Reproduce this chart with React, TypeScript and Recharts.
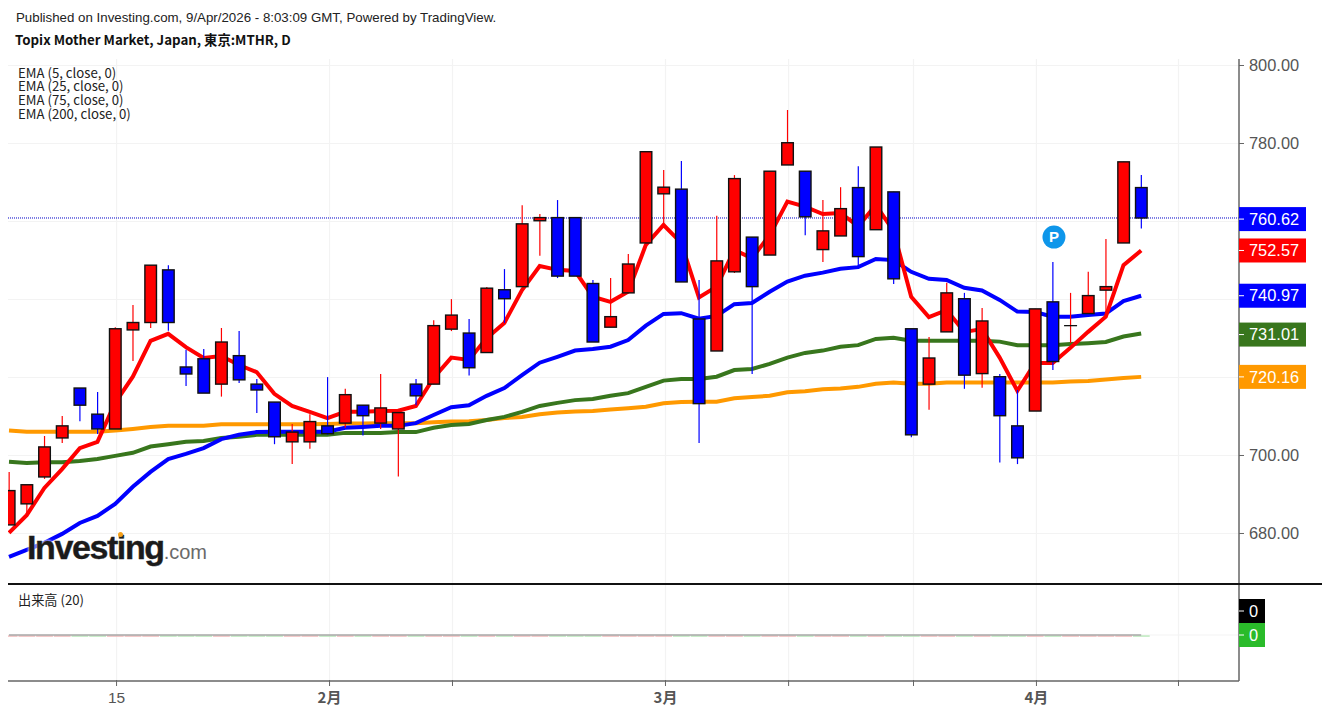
import React from 'react';
import { ComposedChart, Line, Bar, XAxis, YAxis, CartesianGrid, ReferenceLine, ReferenceDot } from 'recharts';

// Candles, one entry per session, in chart order
const opens = [682.2,687.6,694.5,704.5,717.3,710.6,706.8,732.2,734.1,747.6,722.7,724.8,718.3,725.6,718.3,713.7,703.5,703.5,707.6,708.3,712.9,708.3,706.8,718.3,718.3,732.4,731.4,726.4,742.5,743.3,760.2,761,761,744.1,732.9,741.7,754.5,767.1,768.3,735,726.8,747.1,756,751.4,774.5,772.9,752.8,756.3,768.7,757.9,767.6,732.5,718.3,731.7,740.2,721,720.2,707.6,711.4,739.4,733.3,736.4,742.4,754.5,768.7];
const highs = [695.8,692.5,705,710.1,717.3,716.3,732.9,738.6,748.8,748.8,727.1,727.3,732.7,731.9,719.6,713.7,708.1,710.6,720.1,717.1,712.9,720.9,711,719.6,734.7,740.1,735,743.2,747.8,764.2,761.9,765.5,761,745,745.5,751.7,777.9,773.2,775.5,745,761.5,771.9,756,772.9,788.6,772.9,765.5,768.8,774.2,779.1,767.6,732.5,730.4,744.3,741.7,737.8,720.9,716.8,737.6,749.6,741.7,747.1,755.5,775.3,771.9];
const lows = [682.2,684.7,694,703.2,708.8,705.5,706.8,724.2,732.7,732,717.8,716,715.1,718.6,710.9,702.9,697.8,701.7,705.3,707.1,705.1,706.8,694.6,712.9,718.3,731.9,720.5,726.3,734,743.3,751.2,745.5,746,729.1,732.9,741.7,754.5,759.4,744.5,703.2,726.8,746.8,720.9,751.4,774.5,756.5,749.6,756.3,748.7,757.9,744,704.7,711.7,731.7,717.1,717.4,698.2,697.8,711.4,721.9,728.8,736.4,735.6,754.5,758.2];
const closes = [691,692.5,702.2,707.6,712.9,706.8,732.5,734.1,748.8,734.1,720.9,716,729.1,719.4,716.8,704.8,706,708.7,705.6,715.6,710.2,712.2,711,715.3,733.3,736,722.5,742.9,740.2,759.4,761,746,746,729.1,735.6,749.1,777.9,768.8,744.5,713.3,749.9,771,743.3,772.9,780.2,761.2,757.6,763.3,751,779.1,745.3,705.3,725,741.7,720.6,734.5,710.2,699.4,737.6,724.1,733.3,741,743.3,775.3,760.9];

// Moving averages
const ema5 = [680.2,684.7,691.7,696.5,701.9,703.5,713.5,720.2,729.4,731.2,727.8,725,725.5,723.2,721.4,715.8,712.7,711.2,709.6,711.2,711.2,711.4,711.5,712.7,719.9,725.1,724.5,730.1,734,742.4,748.6,747.6,747.3,740.7,739.4,742,754,759.1,754.5,740.5,743.3,752.7,750.6,756.5,765.1,763.8,761.9,762.2,758.8,764.2,757.6,740.7,735.5,737.3,731.7,732.4,725.1,716.6,723.7,723.7,727.6,731.7,735.6,748.8,752.57];
const ema25 = [674,675.8,677.6,679.9,682.7,684.5,687.6,692,695.8,699.1,700.4,701.9,704.2,705.3,706,706.1,706.1,706.1,706.1,707.1,707.3,707.6,707.6,708.3,710.4,712.4,712.9,715.3,717.3,720.6,723.8,725.3,726.9,727.3,727.9,729.6,733.3,736.3,736.5,735.1,735.8,738.8,739.1,742,744.6,746.1,746.9,747.9,748.3,750.4,750.1,747.1,745.3,745,743,742.3,739.9,736.9,736.8,735.6,735.6,736,736.4,739.6,740.97];
const ema75 = [698.4,698.1,698.3,698.3,698.6,699.1,699.9,700.7,702.3,702.9,703.5,703.7,704.5,704.8,705.3,705.3,705.3,705.3,705.3,705.8,705.8,705.8,706,706,707.1,707.8,708.1,709.1,709.9,711.2,712.7,713.5,714.2,714.5,715.3,716,717.6,719.2,719.6,719.6,720.2,721.9,722.2,723.5,725.1,726.3,726.9,727.9,728.3,729.9,730.2,729.4,729.4,729.4,729.4,729.4,729.2,728.3,728.3,728.3,728.6,728.8,729.1,730.5,731.3];
const ema200 = [706.4,706.1,706.1,706.1,706.1,706.1,706.4,706.8,707.3,707.6,707.6,707.6,708,708,708,708,708,708,708.1,708.2,708.2,708.3,708.3,708.3,708.5,708.7,708.8,709.1,709.6,709.9,710.6,711,711.3,711.4,711.8,712.1,712.5,713.4,713.7,713.8,713.8,714.7,715,715.3,716.2,716.5,717,717.2,717.6,718.4,718.7,718.4,718.4,718.7,718.7,718.7,718.7,718.7,718.7,718.7,719,719.1,719.5,719.9,720.16];

// Axis content
const priceTicks = [680, 700, 780, 800, 720.16, 731.01, 740.97, 752.57, 760.62];
const priceGrid = [680, 700, 720, 740, 760, 780, 800];
const priceBadges: Record<string, string> = {
  '760.62': '#0000ff',
  '752.57': '#ff0000',
  '740.97': '#0000ff',
  '731.01': '#38761d',
  '720.16': '#ff9900',
};
const timeTicks = [6.08, 18.12, 25.07, 37.11, 44.07, 51.13, 58.08, 66.11];
const timeLabels: Record<string, string> = { '6.08': '15', '18.12': '2月', '37.11': '3月', '58.08': '4月' };
const emaLegend = ['EMA (5, close, 0)', 'EMA (25, close, 0)', 'EMA (75, close, 0)', 'EMA (200, close, 0)'];
const volumeTicks = [0.48, 0];

const rows = opens.map((o, i) => ({
  i,
  o,
  h: highs[i],
  l: lows[i],
  c: closes[i],
  range: [lows[i], highs[i]],
  ema5: ema5[i],
  ema25: ema25[i],
  ema75: ema75[i],
  ema200: ema200[i],
  vol: 0,
}));

const X_DOMAIN: [number, number] = [-0.0565, 69.53];
const Y_DOMAIN: [number, number] = [667.05, 801.67];
const LABEL_FONT = '"Liberation Sans", Arial, sans-serif';
const CJK_FONT = '"Noto Sans CJK JP", "Noto Sans", sans-serif';
const GRID = '#f3f3f3';
const AXIS = '#666666';

function Candle(props: any) {
  const { x, y, width, height, payload } = props;
  const cx = x + width / 2;
  const span = payload.h - payload.l || 1;
  const toY = (v: number) => y + ((payload.h - v) / span) * height;
  const top = toY(Math.max(payload.o, payload.c));
  const bot = toY(Math.min(payload.o, payload.c));
  const up = payload.c >= payload.o;
  const color = up ? '#ff0000' : '#0000ff';
  return (
    <g>
      <line x1={cx} x2={cx} y1={y} y2={y + height} stroke={color} strokeWidth={1.2} />
      {payload.c === payload.o ? (
        <line x1={cx - 6.5} x2={cx + 6.5} y1={top} y2={top} stroke="#111" strokeWidth={1.3} />
      ) : (
        <rect x={cx - 5.8} y={top} width={11.6} height={Math.max(bot - top, 1)} fill={color} stroke="#111" strokeWidth={1.4} />
      )}
    </g>
  );
}

function VolumeMark(props: any) {
  const { x, y, width, payload } = props;
  const up = payload.c >= payload.o;
  return <rect x={x + width / 2 - 8.4} y={y + 0.4} width={16.8} height={1.3} fill={up ? '#f0b4b4' : '#b4e6b4'} />;
}

function PriceTick(props: any) {
  const { x, y, payload } = props;
  const key = String(payload.value);
  const bg = priceBadges[key];
  const label = Number(payload.value).toFixed(2);
  return (
    <g>
      {bg && <rect x={x} y={y - 12} width={67} height={24} fill={bg} />}
      <line x1={x} x2={x + 5} y1={y} y2={y} stroke={bg ? '#ffffff' : AXIS} strokeWidth={1} />
      <text x={x + 10} y={y + 5.7} fontFamily={LABEL_FONT} fontSize={16.4} fill={bg ? '#ffffff' : '#555555'}>
        {label}
      </text>
    </g>
  );
}

function VolumeTick(props: any) {
  const { x, y, payload } = props;
  const bg = payload.value === 0 ? '#2abb2a' : '#000000';
  return (
    <g>
      <rect x={x} y={y - 12} width={26} height={24} fill={bg} />
      <line x1={x} x2={x + 5} y1={y} y2={y} stroke="#ffffff" strokeWidth={1} />
      <text x={x + 10} y={y + 5.7} fontFamily={LABEL_FONT} fontSize={16.4} fill="#ffffff">
        0
      </text>
    </g>
  );
}

function TimeTick(props: any) {
  const { x, y, payload } = props;
  const label = timeLabels[String(payload.value)];
  const isMonth = label && label.endsWith('月');
  return (
    <g>
      <line x1={x} x2={x} y1={y - 1} y2={y + 5} stroke={AXIS} strokeWidth={1} />
      {label && (
        <text x={x} y={y + 22} textAnchor="middle" fontFamily={isMonth ? CJK_FONT : LABEL_FONT} fontWeight={isMonth ? 700 : 400} fontSize={isMonth ? 15 : 15.5} fill="#555555">
          {label}
        </text>
      )}
    </g>
  );
}

const abs = (left: number, top: number): React.CSSProperties => ({ position: 'absolute', left, top, whiteSpace: 'nowrap' });

export default function App() {
  return (
    <div style={{ position: 'absolute', left: 0, top: 0, width: 1322, height: 714, background: '#fff', overflow: 'hidden' }}>
      <div style={abs(0, 0)}>
        <ComposedChart width={1322} height={585} data={rows} margin={{ top: 59, right: 0, bottom: 1, left: 8 }}>
          <CartesianGrid stroke={GRID} strokeWidth={1.2} horizontalValues={priceGrid} verticalValues={timeTicks} />
          <XAxis dataKey="i" type="number" domain={X_DOMAIN} allowDataOverflow hide ticks={timeTicks} />
          <YAxis
            orientation="right"
            width={83}
            type="number"
            domain={Y_DOMAIN}
            allowDataOverflow
            ticks={priceTicks}
            interval={0}
            tickLine={false}
            tickSize={0}
            tickMargin={0}
            axisLine={{ stroke: AXIS, strokeWidth: 1.5 }}
            tick={<PriceTick />}
          />
          <ReferenceLine y={760.9} stroke="#0000c8" strokeWidth={1} strokeDasharray="1 1" />
          <Line dataKey="ema200" stroke="#ff9900" strokeWidth={4} dot={false} isAnimationActive={false} />
          <Line dataKey="ema75" stroke="#38761d" strokeWidth={4} dot={false} isAnimationActive={false} />
          <Line dataKey="ema25" stroke="#0000ff" strokeWidth={4} dot={false} isAnimationActive={false} />
          <Line dataKey="ema5" stroke="#ff0000" strokeWidth={4} dot={false} isAnimationActive={false} />
        </ComposedChart>
      </div>

      <div style={abs(0, 0)}>
        <ComposedChart width={1322} height={585} data={rows} margin={{ top: 59, right: 83, bottom: 1, left: 8 }}>
          <XAxis dataKey="i" type="number" domain={X_DOMAIN} allowDataOverflow hide />
          <YAxis type="number" domain={Y_DOMAIN} allowDataOverflow hide />
          <Bar dataKey="range" barSize={12} shape={<Candle />} isAnimationActive={false} />
          <ReferenceDot
            x={59.07}
            y={756}
            r={11.5}
            fill="#0e96ea"
            stroke="none"
            label={{ value: 'P', position: 'center', fill: '#ffffff', fontSize: 15, fontWeight: 700, fontFamily: LABEL_FONT }}
          />
        </ComposedChart>
      </div>

      <div style={abs(0, 585)}>
        <ComposedChart width={1322} height={129} data={rows} margin={{ top: 0, right: 0, bottom: 0, left: 8 }}>
          <CartesianGrid stroke={GRID} strokeWidth={1.2} horizontalValues={[0]} verticalValues={timeTicks} />
          <XAxis
            dataKey="i"
            type="number"
            domain={X_DOMAIN}
            allowDataOverflow
            ticks={timeTicks}
            interval={0}
            height={33}
            tickLine={false}
            tickSize={0}
            tickMargin={0}
            axisLine={{ stroke: AXIS, strokeWidth: 1.5 }}
            tick={<TimeTick />}
          />
          <YAxis
            orientation="right"
            width={83}
            type="number"
            domain={[-0.92, 1]}
            allowDataOverflow
            ticks={volumeTicks}
            interval={0}
            tickLine={false}
            tickSize={0}
            tickMargin={0}
            axisLine={{ stroke: AXIS, strokeWidth: 1.5 }}
            tick={<VolumeTick />}
          />
          <Bar dataKey="vol" barSize={12} shape={<VolumeMark />} isAnimationActive={false} />
          <Line dataKey="vol" stroke="#a8a8a8" strokeWidth={1.5} dot={false} isAnimationActive={false} />
        </ComposedChart>
      </div>

      <div style={{ position: 'absolute', left: 8, top: 583, width: 1314, height: 2, background: '#111' }} />

      <div style={{ ...abs(16, 10), font: `13.3px ${LABEL_FONT}`, color: '#222' }}>
        Published on Investing.com, 9/Apr/2026 - 8:03:09 GMT, Powered by TradingView.
      </div>
      <div style={{ ...abs(15, 30), font: `700 13.3px ${CJK_FONT}`, color: '#111', lineHeight: '20px' }}>
        Topix Mother Market, Japan, 東京:MTHR, D
      </div>
      {emaLegend.map((t, i) => (
        <div key={t} style={{ ...abs(18, 65.5 + i * 13.7), font: `13.2px ${CJK_FONT}`, color: '#222', lineHeight: '13.7px' }}>
          {t}
        </div>
      ))}
      <div style={{ ...abs(18, 592), font: `13.2px ${CJK_FONT}`, color: '#222', lineHeight: '16px' }}>出来高 (20)</div>

      <div style={{ ...abs(27, 526), textShadow: '0 0 3px #fff, 0 0 3px #fff', lineHeight: '42px', color: '#1b1b1b', fontFamily: LABEL_FONT }}>
        <span style={{ fontWeight: 700, fontSize: 34, letterSpacing: -1.4, WebkitTextStroke: '0.4px #1b1b1b' }}>Investing</span>
        <span style={{ fontSize: 20, color: '#6a6a6a' }}>.com</span>
      </div>
      <div style={{ position: 'absolute', left: 118, top: 532, width: 5, height: 5, borderRadius: 3, background: '#f5a11c' }} />
    </div>
  );
}
